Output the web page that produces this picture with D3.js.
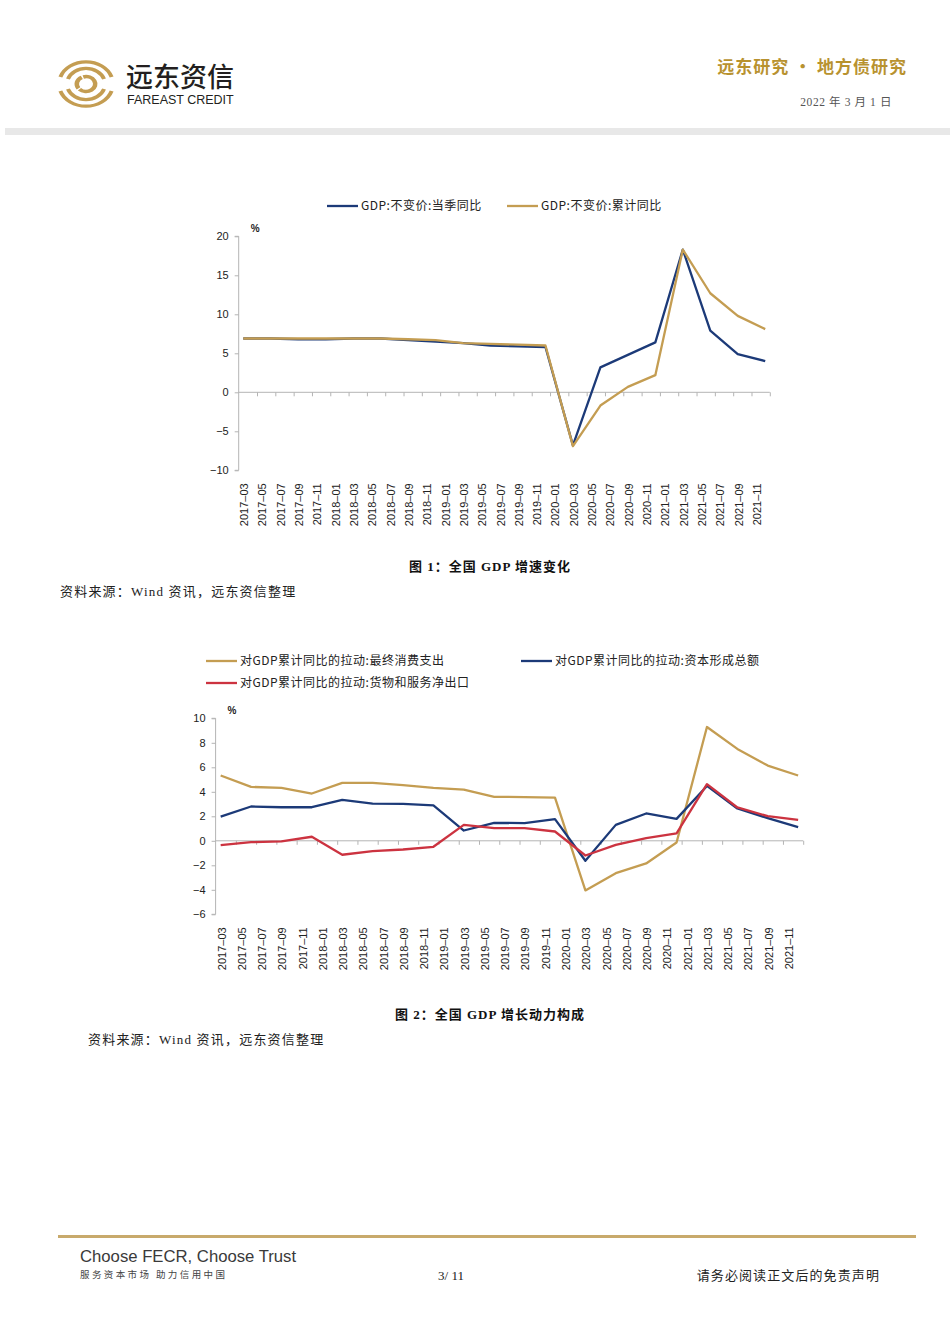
<!DOCTYPE html>
<html>
<head>
<meta charset="utf-8">
<script src="https://cdn.jsdelivr.net/npm/d3@7"></script>
<style>
  html, body { margin: 0; padding: 0; background: #fff; }
  svg { display: block; }
</style>
</head>
<body>
<svg id="page" width="950" height="1344"></svg>
<script>
// quarterly observations
const quarters = [
  '2017-03', '2017-06', '2017-09', '2017-12',
  '2018-03', '2018-06', '2018-09', '2018-12',
  '2019-03', '2019-06', '2019-09', '2019-12',
  '2020-03', '2020-06', '2020-09', '2020-12',
  '2021-03', '2021-06', '2021-09', '2021-12'
];

// x tick labels (every 2 months)
const monthLabels = [
  '2017-03', '2017-05', '2017-07', '2017-09', '2017-11',
  '2018-01', '2018-03', '2018-05', '2018-07', '2018-09', '2018-11',
  '2019-01', '2019-03', '2019-05', '2019-07', '2019-09', '2019-11',
  '2020-01', '2020-03', '2020-05', '2020-07', '2020-09', '2020-11',
  '2021-01', '2021-03', '2021-05', '2021-07', '2021-09', '2021-11'
];

// chart 1
const gdpQuarterly = [6.9, 6.9, 6.8, 6.8, 6.9, 6.9, 6.7, 6.5, 6.3, 6.0, 5.9, 5.8, -6.8, 3.2, 4.8, 6.4, 18.3, 7.9, 4.9, 4.0];
const gdpCumulative = [6.9, 6.9, 6.9, 6.9, 6.9, 6.9, 6.8, 6.7, 6.3, 6.2, 6.1, 6.0, -6.9, -1.7, 0.7, 2.2, 18.3, 12.7, 9.8, 8.1];
const chart1Ticks = [-10, -5, 0, 5, 10, 15, 20];

// chart 2
const consumption = [5.33, 4.4, 4.32, 3.86, 4.73, 4.73, 4.54, 4.32, 4.18, 3.59, 3.57, 3.53, -4.05, -2.64, -1.85, -0.14, 9.29, 7.5, 6.14, 5.33];
const capital = [1.98, 2.8, 2.74, 2.74, 3.34, 3.04, 3.02, 2.9, 0.84, 1.47, 1.44, 1.77, -1.63, 1.3, 2.23, 1.79, 4.48, 2.64, 1.85, 1.11];
const netExports = [-0.35, -0.11, -0.05, 0.33, -1.14, -0.84, -0.71, -0.49, 1.3, 1.03, 1.03, 0.76, -1.2, -0.33, 0.22, 0.6, 4.62, 2.72, 2.01, 1.71];
const chart2Ticks = [-6, -4, -2, 0, 2, 4, 6, 8, 10];

const BLUE = '#1c3a78';
const GOLD = '#c49d52';
const RED = '#cc3340';
const AXIS = '#b4b4b4';
const CJK = '"Noto Sans CJK SC", sans-serif';
const LATIN = '"Liberation Sans", Arial, sans-serif';
const SERIF = '"Liberation Serif", "Noto Sans CJK SC", serif';

const svg = d3.select('#page');

// months since 2017-03
const monthIndex = s => {
  const [y, m] = s.split('-').map(Number);
  return (y - 2017) * 12 + (m - 3);
};

const drawChart = ({ left, right, top, bottom, domain, ticks, series, legend }) => {
  const x = d3.scaleLinear().domain([-0.5, 57.5]).range([left, right]);
  const y = d3.scaleLinear().domain(domain).range([bottom, top]);
  const g = svg.append('g');

  // y axis
  const yAxis = g.append('g')
    .attr('transform', `translate(${left},0)`)
    .call(d3.axisLeft(y).tickValues(ticks).tickSize(4).tickPadding(6).tickFormat(d3.format('d')));
  yAxis.select('.domain').attr('stroke', AXIS).attr('d', `M-4,${y(domain[1])}H0V${y(domain[0])}H-4`);
  yAxis.selectAll('.tick line').attr('stroke', AXIS);
  yAxis.selectAll('.tick text')
    .style('font-family', LATIN).style('font-size', '11px').attr('fill', '#222');

  // x axis at zero
  const tickPos = d3.range(0, 29).map(k => 1.5 + 2 * k);
  const xAxis = g.append('g')
    .attr('transform', `translate(0,${y(0)})`)
    .call(d3.axisBottom(x).tickValues(tickPos).tickSize(4).tickFormat(''));
  xAxis.select('.domain').attr('stroke', AXIS).attr('d', `M${left},0H${right}`);
  xAxis.selectAll('.tick line').attr('stroke', AXIS);

  // rotated date labels below the plot
  g.append('g').selectAll('text')
    .data(monthLabels)
    .join('text')
    .attr('transform', d => `translate(${x(monthIndex(d)) + 1},${bottom + 13}) rotate(-90)`)
    .attr('text-anchor', 'end')
    .attr('dy', '0.35em')
    .style('font-family', LATIN)
    .style('font-size', '11px')
    .attr('fill', '#222')
    .text(d => d.replace('-', '–'));

  // percent unit
  g.append('text')
    .attr('x', left + 12).attr('y', top - 4)
    .style('font-family', LATIN).style('font-size', '10px').style('font-weight', 'bold')
    .attr('fill', '#222')
    .text('%');

  // lines
  const line = d3.line()
    .x((d, i) => x(monthIndex(quarters[i])))
    .y(d => y(d));
  series.forEach(s => {
    g.append('path')
      .datum(s.values)
      .attr('fill', 'none')
      .attr('stroke', s.color)
      .attr('stroke-width', 2.3)
      .attr('stroke-linejoin', 'round')
      .attr('d', line);
  });

  // legend
  legend.forEach(l => {
    g.append('line')
      .attr('x1', l.x).attr('x2', l.x + 31)
      .attr('y1', l.y).attr('y2', l.y)
      .attr('stroke', l.color).attr('stroke-width', 2.3);
    g.append('text')
      .attr('x', l.x + 34).attr('y', l.y)
      .attr('dy', '0.35em')
      .style('font-family', CJK).style('font-size', '12px')
      .style('letter-spacing', '0.5px')
      .attr('fill', '#222')
      .text(l.label);
  });
};

// ---- header ----
const logo = svg.append('g').attr('transform', 'translate(86,84)');
const arc = d3.arc();
[[25, 29], [17, 21]].forEach(([r0, r1]) => {
  logo.append('path').attr('fill', GOLD)
    .attr('d', arc({ innerRadius: r0, outerRadius: r1, startAngle: -1.25, endAngle: 1.25 }))
    .attr('transform', 'scale(1,0.82)');
  logo.append('path').attr('fill', GOLD)
    .attr('d', arc({ innerRadius: r0, outerRadius: r1, startAngle: Math.PI - 1.25, endAngle: Math.PI + 1.25 }))
    .attr('transform', 'scale(1,0.82)');
});
logo.append('path').attr('fill', GOLD)
  .attr('d', arc({ innerRadius: 7, outerRadius: 11.5, startAngle: -0.3, endAngle: Math.PI * 1.25 }))
  .attr('transform', 'scale(1,0.8)');
logo.append('path').attr('fill', GOLD)
  .attr('d', arc({ innerRadius: 7, outerRadius: 11.5, startAngle: Math.PI * 1.3, endAngle: Math.PI * 1.85 }))
  .attr('transform', 'scale(1,0.8)');

svg.append('text').attr('x', 126).attr('y', 87)
  .style('font-family', CJK).style('font-size', '27px').style('font-weight', 500)
  .attr('fill', '#231f20').text('远东资信');
svg.append('text').attr('x', 127).attr('y', 104)
  .style('font-family', LATIN).style('font-size', '12.5px')
  .attr('fill', '#231f20').text('FAREAST CREDIT');

svg.append('text').attr('x', 907).attr('y', 73).attr('text-anchor', 'end')
  .style('font-family', CJK).style('font-size', '17px').style('font-weight', 'bold')
  .style('letter-spacing', '1px')
  .attr('fill', '#b8922f').text('远东研究 • 地方债研究');
svg.append('text').attr('x', 892).attr('y', 106).attr('text-anchor', 'end')
  .style('font-family', SERIF).style('font-size', '11.5px')
  .style('letter-spacing', '0.6px')
  .attr('fill', '#555').text('2022 年 3 月 1 日');

svg.append('rect').attr('x', 5).attr('y', 128).attr('width', 945).attr('height', 7).attr('fill', '#e8e8e8');

// ---- chart 1 ----
drawChart({
  left: 238.7, right: 769.8, top: 236.3, bottom: 470.3,
  domain: [-10, 20], ticks: chart1Ticks,
  series: [
    { values: gdpQuarterly, color: BLUE },
    { values: gdpCumulative, color: GOLD }
  ],
  legend: [
    { x: 327, y: 206, color: BLUE, label: 'GDP:不变价:当季同比' },
    { x: 507, y: 206, color: GOLD, label: 'GDP:不变价:累计同比' }
  ]
});

svg.append('text').attr('x', 490).attr('y', 571).attr('text-anchor', 'middle')
  .style('font-family', SERIF).style('font-size', '13px').style('font-weight', 'bold')
  .style('letter-spacing', '1px')
  .attr('fill', '#111').text('图 1：全国 GDP 增速变化');
svg.append('text').attr('x', 60).attr('y', 596)
  .style('font-family', SERIF).style('font-size', '13px')
  .style('letter-spacing', '1.2px')
  .attr('fill', '#222').text('资料来源：Wind 资讯，远东资信整理');

// ---- chart 2 ----
drawChart({
  left: 215.6, right: 803.2, top: 718.3, bottom: 914.3,
  domain: [-6, 10], ticks: chart2Ticks,
  series: [
    { values: consumption, color: GOLD },
    { values: capital, color: BLUE },
    { values: netExports, color: RED }
  ],
  legend: [
    { x: 206, y: 661, color: GOLD, label: '对GDP累计同比的拉动:最终消费支出' },
    { x: 521, y: 661, color: BLUE, label: '对GDP累计同比的拉动:资本形成总额' },
    { x: 206, y: 683, color: RED, label: '对GDP累计同比的拉动:货物和服务净出口' }
  ]
});

svg.append('text').attr('x', 490).attr('y', 1019).attr('text-anchor', 'middle')
  .style('font-family', SERIF).style('font-size', '13px').style('font-weight', 'bold')
  .style('letter-spacing', '1px')
  .attr('fill', '#111').text('图 2：全国 GDP 增长动力构成');
svg.append('text').attr('x', 88).attr('y', 1044)
  .style('font-family', SERIF).style('font-size', '13px')
  .style('letter-spacing', '1.2px')
  .attr('fill', '#222').text('资料来源：Wind 资讯，远东资信整理');

// ---- footer ----
svg.append('rect').attr('x', 58).attr('y', 1235).attr('width', 858).attr('height', 3).attr('fill', '#c8aa6c');
svg.append('text').attr('x', 80).attr('y', 1262)
  .style('font-family', LATIN).style('font-size', '16.7px')
  .attr('fill', '#3a3a3a').text('Choose FECR, Choose Trust');
svg.append('text').attr('x', 80).attr('y', 1278)
  .style('font-family', CJK).style('font-size', '9.5px')
  .style('letter-spacing', '2.4px')
  .attr('fill', '#444').text('服务资本市场 助力信用中国');
svg.append('text').attr('x', 451).attr('y', 1280).attr('text-anchor', 'middle')
  .style('font-family', SERIF).style('font-size', '13px')
  .attr('fill', '#222').text('3/ 11');
svg.append('text').attr('x', 880).attr('y', 1280).attr('text-anchor', 'end')
  .style('font-family', SERIF).style('font-size', '13px')
  .style('letter-spacing', '1.1px')
  .attr('fill', '#222').text('请务必阅读正文后的免责声明');
</script>
</body>
</html>
